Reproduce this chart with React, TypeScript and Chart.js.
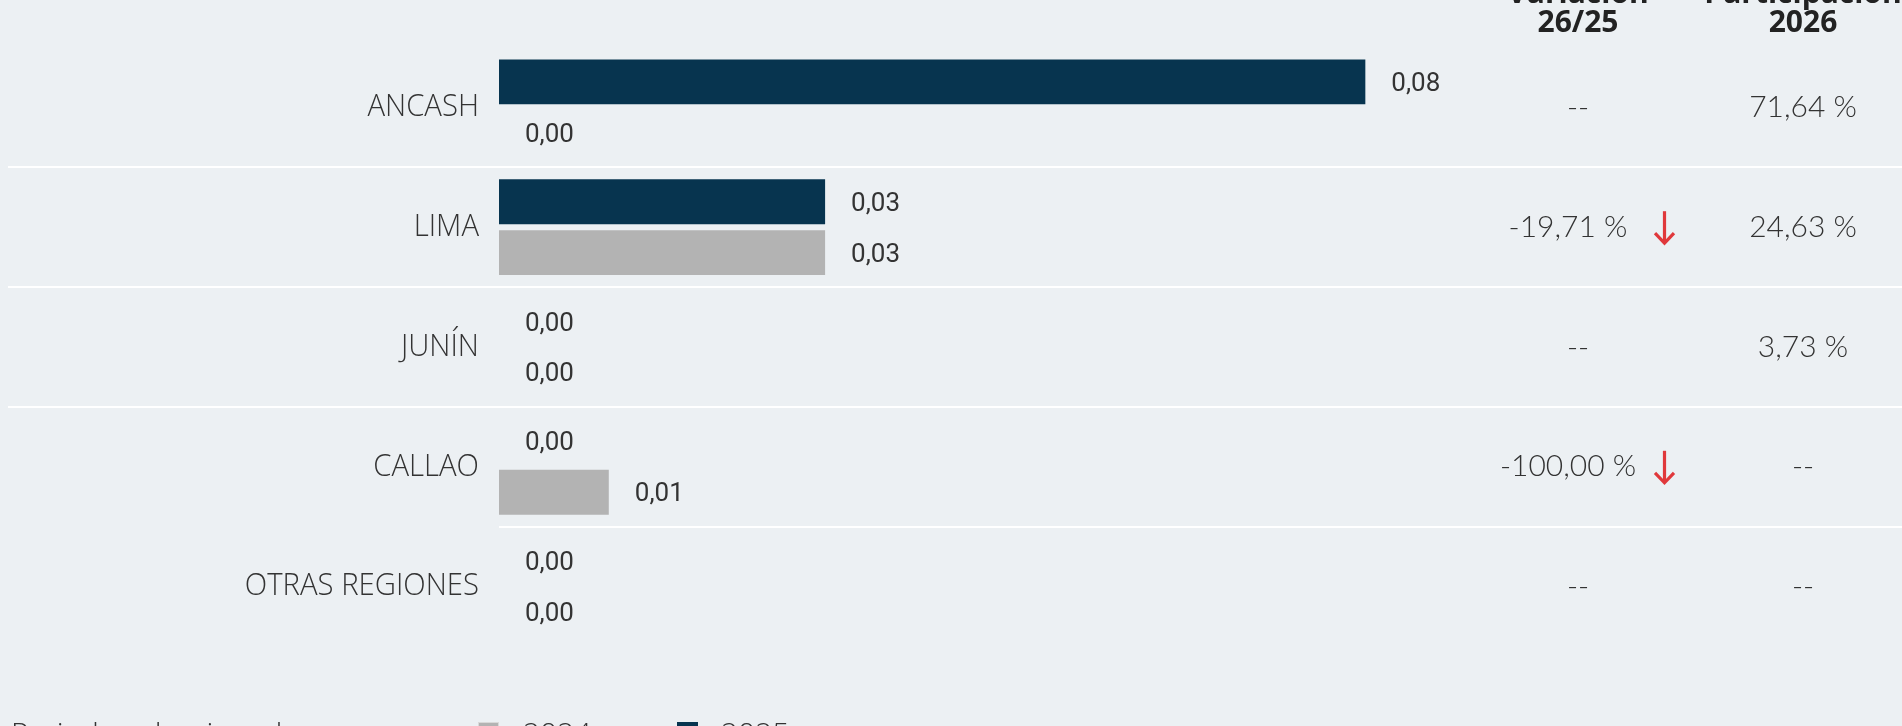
import React, { useEffect, useRef } from "react";
import { Chart, registerables } from "chart.js";

Chart.register(...registerables);

const categories = ["ANCASH", "LIMA", "JUNÍN", "CALLAO", "OTRAS REGIONES"];
const seriesLabels = ["2025", "2024"];
const currentValues = [0.0797, 0.03, 0.0, 0.0, 0.0];
const previousValues = [0.0, 0.03, 0.0, 0.0101, 0.0];
const variationLabels = ["--", "-19,71 %", "--", "-100,00 %", "--"];
const variationDown = [false, true, false, true, false];
const shareLabels = ["71,64 %", "24,63 %", "3,73 %", "--", "--"];
const headerVariation = ["Variación", "26/25"];
const headerShare = ["Participación", "2026"];
const legendTitle = "Periodo seleccionado: enero";

const BG = "#ecf0f3";
const DARK = "#07344f";
const GRAY = "#b3b3b3";
const TEXT = "#333333";

const fmt = (v: number) => v.toFixed(2).replace(".", ",");

const overlayPlugin = {
  id: "overlay",
  beforeDraw(chart: any) {
    const { ctx, width, height } = chart;
    ctx.save();
    ctx.fillStyle = BG;
    ctx.fillRect(0, 0, width, height);
    ctx.restore();
  },
  beforeDatasetsDraw(chart: any) {
    const { ctx, width } = chart;
    const y = chart.scales.y;
    const left = chart.chartArea.left;
    ctx.save();
    ctx.strokeStyle = "#ffffff";
    ctx.lineWidth = 2;
    for (let i = 0; i < categories.length - 1; i++) {
      const py = Math.round((y.getPixelForValue(i) + y.getPixelForValue(i + 1)) / 2);
      const startX = i === categories.length - 2 ? left : 8;
      ctx.beginPath();
      ctx.moveTo(startX, py);
      ctx.lineTo(width, py);
      ctx.stroke();
    }
    ctx.restore();
  },
  afterDraw(chart: any) {
    const { ctx } = chart;
    const y = chart.scales.y;
    const left = chart.chartArea.left;
    ctx.save();

    // category labels
    ctx.fillStyle = TEXT;
    ctx.textBaseline = "middle";
    ctx.textAlign = "right";
    ctx.font = '300 31px "Open Sans"';
    categories.forEach((c, i) => {
      const py = y.getPixelForValue(i);
      ctx.save();
      ctx.translate(479, py);
      ctx.scale(0.945, 1);
      ctx.fillText(c, 0, 0);
      ctx.restore();
    });

    // bar value labels
    ctx.textAlign = "left";
    ctx.font = '400 26px Roboto';
    chart.data.datasets.forEach((ds: any, di: number) => {
      const meta = chart.getDatasetMeta(di);
      meta.data.forEach((bar: any, i: number) => {
        const v = ds.data[i];
        const end = Math.max(bar.x, left);
        ctx.fillText(fmt(v), end + 26, bar.y + 2.5);
      });
    });

    // headers
    ctx.textAlign = "center";
    ctx.textBaseline = "alphabetic";
    ctx.fillStyle = "#222222";
    ctx.font = '700 30px "Open Sans"';
    ctx.fillText(headerVariation[0], 1578, 3);
    ctx.fillText(headerVariation[1], 1578, 32);
    ctx.fillText(headerShare[0], 1803, 3);
    ctx.fillText(headerShare[1], 1803, 32);

    // table columns
    ctx.textBaseline = "middle";
    ctx.fillStyle = TEXT;
    ctx.font = '300 30px Lato';
    categories.forEach((_, i) => {
      const py = y.getPixelForValue(i);
      ctx.textAlign = "center";
      if (variationDown[i]) {
        ctx.fillText(variationLabels[i], 1568, py);
        ctx.save();
        ctx.strokeStyle = "#e0383b";
        ctx.lineWidth = 3.2;
        ctx.beginPath();
        ctx.moveTo(1664.5, py - 16);
        ctx.lineTo(1664.5, py + 15);
        ctx.stroke();
        ctx.beginPath();
        ctx.moveTo(1655, py + 6);
        ctx.lineTo(1664.5, py + 16);
        ctx.lineTo(1674, py + 6);
        ctx.stroke();
        ctx.restore();
      } else {
        ctx.fillText(variationLabels[i], 1578, py);
      }
      ctx.fillText(shareLabels[i], 1803, py);
    });

    // legend (bottom, partially cut)
    ctx.textAlign = "left";
    ctx.textBaseline = "alphabetic";
    ctx.fillStyle = TEXT;
    ctx.font = '300 30px "Open Sans"';
    ctx.fillText(legendTitle, 11, 744);
    ctx.fillStyle = GRAY;
    ctx.fillRect(478, 722, 21, 21);
    ctx.strokeStyle = "#d9d9d9";
    ctx.lineWidth = 1;
    ctx.strokeRect(478.5, 722.5, 20, 20);
    ctx.fillStyle = TEXT;
    ctx.fillText(seriesLabels[1], 523, 744);
    ctx.fillStyle = DARK;
    ctx.fillRect(677, 722, 21, 21);
    ctx.fillStyle = TEXT;
    ctx.fillText(seriesLabels[0], 721, 744);

    ctx.restore();
  },
};

export default function App() {
  const canvasRef = useRef<HTMLCanvasElement | null>(null);

  useEffect(() => {
    let chart: Chart | null = null;
    let cancelled = false;
    const fonts = [
      '300 31px "Open Sans"',
      '700 30px "Open Sans"',
      '400 26px Roboto',
      '300 30px Lato',
    ];
    Promise.all(fonts.map((f) => (document as any).fonts.load(f).catch(() => null)))
      .catch(() => null)
      .then(() => {
        if (cancelled || !canvasRef.current) return;
        chart = new Chart(canvasRef.current, {
          type: "bar",
          data: {
            labels: categories,
            datasets: [
              {
                label: seriesLabels[0],
                data: currentValues,
                backgroundColor: DARK,
                borderWidth: 0,
                categoryPercentage: 0.85,
                barPercentage: 0.88,
              },
              {
                label: seriesLabels[1],
                data: previousValues,
                backgroundColor: GRAY,
                borderWidth: 0,
                categoryPercentage: 0.85,
                barPercentage: 0.88,
              },
            ],
          },
          options: {
            indexAxis: "y",
            animation: false,
            responsive: true,
            maintainAspectRatio: false,
            events: [],
            layout: { padding: { left: 499, right: 316, top: 47.5, bottom: 79.5 } },
            plugins: {
              legend: { display: false },
              tooltip: { enabled: false },
            },
            scales: {
              x: { display: false, min: 0, max: 0.1 },
              y: { display: false },
            },
          },
          plugins: [overlayPlugin],
        });
      });
    return () => {
      cancelled = true;
      if (chart) chart.destroy();
    };
  }, []);

  return (
    <div
      style={{
        position: "fixed",
        left: 0,
        top: 0,
        width: 1902,
        height: 726,
        background: BG,
        overflow: "hidden",
      }}
    >
      <canvas ref={canvasRef} />
    </div>
  );
}
